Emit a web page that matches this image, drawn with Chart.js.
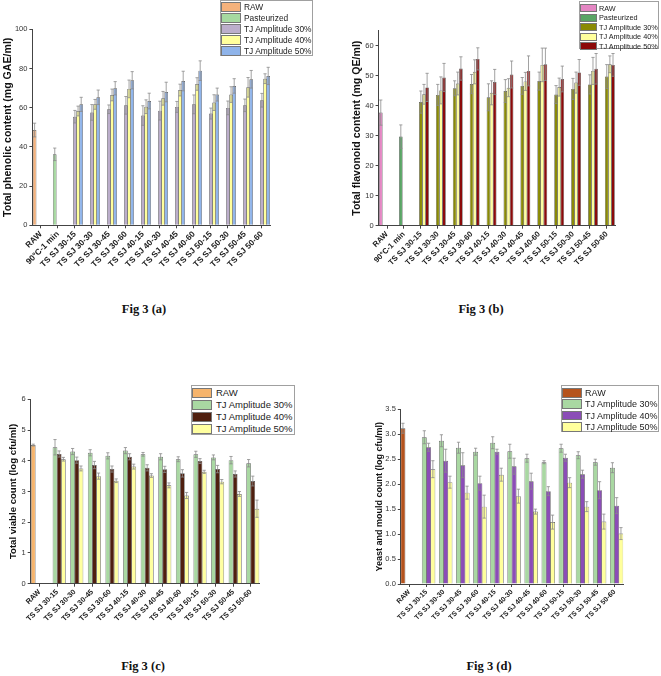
<!DOCTYPE html>
<html>
<head>
<meta charset="utf-8">
<script src="https://cdn.jsdelivr.net/npm/chart.js@4.4.1/dist/chart.umd.min.js"></script>
<style>
  html,body{margin:0;padding:0;background:#fff;}
  body{width:661px;height:676px;position:relative;overflow:hidden;font-family:"Liberation Sans",Arial,sans-serif;}
  canvas{position:absolute;}
  .cap{position:absolute;font-family:"Liberation Serif","Times New Roman",serif;font-weight:bold;font-size:12.5px;color:#111;transform:translateX(-50%);white-space:nowrap;}
  .leg{position:absolute;border:1px solid #a0a0a0;background:#fff;box-sizing:border-box;}
  .row{position:absolute;left:0;display:flex;align-items:center;white-space:nowrap;color:#222;}
  .sw{box-sizing:border-box;border:1px solid #777;flex:none;}
</style>
</head>
<body>
<canvas id="ca" width="330" height="290" style="left:0;top:0;width:330px;height:290px"></canvas>
<canvas id="cb" width="331" height="290" style="left:330px;top:0;width:331px;height:290px"></canvas>
<canvas id="cc" width="330" height="280" style="left:0;top:355px;width:330px;height:280px"></canvas>
<canvas id="cd" width="331" height="280" style="left:330px;top:355px;width:331px;height:280px"></canvas>

<div class="cap" style="left:144px;top:302px">Fig 3 (a)</div>
<div class="cap" style="left:481px;top:302px">Fig 3 (b)</div>
<div class="cap" style="left:143px;top:659px">Fig 3 (c)</div>
<div class="cap" style="left:489px;top:659px">Fig 3 (d)</div>

<div id="lega" class="leg"></div>
<div id="legb" class="leg"></div>
<div id="legc" class="leg"></div>
<div id="legd" class="leg"></div>

<script>
// ---------- categories ----------
const tsLabels = ['TS SJ 30-15','TS SJ 30-30','TS SJ 30-45','TS SJ 30-60','TS SJ 40-15','TS SJ 40-30','TS SJ 40-45','TS SJ 40-60','TS SJ 50-15','TS SJ 50-30','TS SJ 50-45','TS SJ 50-60'];
const catsAB = ['RAW','90°C-1 min'].concat(tsLabels);
const catsCD = ['RAW'].concat(tsLabels);
const seriesAB = ['RAW','Pasteurized','TJ Amplitude 30%','TJ Amplitude 40%','TJ Amplitude 50%'];
const seriesCD = ['RAW','TJ Amplitude 30%','TJ Amplitude 40%','TJ Amplitude 50%'];

// ---------- (a) total phenolic content ----------
const tpcRaw = 48.6, tpcRawErr = 3.5;
const tpcPast = 36.2, tpcPastErr = 3.2;
const tpc30 = [55.4,57.6,59.2,61.2,56.0,58.5,60.4,61.7,57.0,59.9,61.2,63.8];
const tpc40 = [58.3,61.7,66.5,69.6,60.5,64.8,69.0,72.1,62.6,66.7,70.4,74.8];
const tpc50 = [61.7,65.3,69.9,74.0,63.4,68.0,73.6,78.9,66.7,71.1,74.5,76.2];
const tpc30Err = [3.2,4.0,2.2,4.5,5.0,4.8,2.8,4.8,2.8,3.5,3.2,3.5];
const tpc40Err = [2.5,2.5,3.0,4.5,3.5,3.5,3.0,3.2,4.0,4.0,5.0,2.5];
const tpc50Err = [3.6,3.7,3.4,4.4,4.0,5.0,5.0,5.0,3.3,3.7,4.5,4.4];

// ---------- (b) total flavonoid content ----------
const tfcRaw = 37.7, tfcRawErr = 4.2;
const tfcPast = 29.7, tfcPastErr = 3.9;
const tfc30 = [41.2,43.6,45.8,47.2,42.8,44.9,46.6,48.2,43.7,45.6,47.1,49.7];
const tfc40 = [43.8,45.1,47.4,51.3,44.3,46.0,48.1,53.6,46.2,47.7,51.6,53.8];
const tfc50 = [46.1,49.4,52.4,55.6,47.9,50.4,51.6,53.8,48.9,51.1,52.3,53.6];
const tfc30Err = [3.7,3.5,2.5,3.2,4.5,3.8,2.8,3.0,3.0,3.5,3.2,4.0];
const tfc40Err = [3.3,4.5,3.8,4.0,4.0,3.0,3.0,5.6,3.0,3.5,4.5,2.8];
const tfc50Err = [4.7,4.7,3.9,3.7,4.2,4.5,5.0,5.4,4.3,4.3,5.1,3.8];

// ---------- (c) total viable count ----------
const tvcRaw = 4.51, tvcRawErr = 0.03;
const tvc30 = [4.44,4.30,4.26,4.16,4.33,4.21,4.13,4.05,4.21,4.11,4.02,3.92];
const tvc40 = [4.22,4.02,3.86,3.73,4.13,3.77,3.72,3.59,3.99,3.73,3.57,3.34];
const tvc50 = [4.05,3.75,3.50,3.35,3.81,3.52,3.20,2.87,3.64,3.32,2.92,2.44];
const tvc30Err = [0.25,0.10,0.10,0.10,0.10,0.06,0.10,0.08,0.10,0.08,0.12,0.12];
const tvc40Err = [0.10,0.10,0.12,0.10,0.10,0.10,0.10,0.12,0.08,0.12,0.10,0.16];
const tvc50Err = [0.06,0.08,0.10,0.06,0.08,0.06,0.08,0.10,0.05,0.07,0.08,0.28];

// ---------- (d) yeast and mould count ----------
const ymRaw = 3.12, ymRawErr = 0.10;
const ym30 = [2.94,2.87,2.73,2.65,2.83,2.66,2.52,2.44,2.72,2.58,2.44,2.33];
const ym40 = [2.74,2.47,2.38,2.02,2.65,2.36,2.06,1.86,2.53,2.20,1.88,1.57];
const ym50 = [2.30,2.04,1.83,1.55,2.19,1.76,1.45,1.24,2.03,1.55,1.25,1.01];
const ym30Err = [0.13,0.12,0.11,0.07,0.12,0.14,0.08,0.03,0.08,0.07,0.06,0.10];
const ym40Err = [0.08,0.23,0.25,0.14,0.05,0.16,0.16,0.09,0.07,0.08,0.17,0.16];
const ym50Err = [0.17,0.12,0.13,0.23,0.13,0.14,0.05,0.14,0.10,0.10,0.15,0.12];

// ---------- colours ----------
const colA = ['#f5b27c','#a6d9a0','#bcaecb','#ffff9c','#8fb4ea'];
const colB = ['#e486c3','#5aa565','#8a8a05','#ffff9c','#8c0a0a'];
const colC = ['#f6b46c','#a9d8a2','#4f1f0f','#ffffa0'];
const colD = ['#b5531d','#a9d8a2','#8b4db7','#ffff9c'];

// ---------- helpers ----------
const nulls = n => Array(n).fill(null);
function single(n, idx, v){ const a = nulls(n); a[idx] = v; return a; }
function tail(n, arr){ return nulls(n - arr.length).concat(arr); }

const errPlugin = {
  id:'errbars',
  afterDatasetsDraw(chart){
    const ctx = chart.ctx, ys = chart.scales.y;
    chart.data.datasets.forEach((ds,i)=>{
      const meta = chart.getDatasetMeta(i);
      ds.data.forEach((v,j)=>{
        if (v === null || v === undefined) return;
        const e = ds.errors[j]; if (!e) return;
        const x = meta.data[j].x;
        const yt = ys.getPixelForValue(v+e), yb = ys.getPixelForValue(v-e);
        ctx.save();
        ctx.strokeStyle = '#8a8a8a'; ctx.lineWidth = 0.8;
        ctx.beginPath();
        ctx.moveTo(x, yb); ctx.lineTo(x, yt);
        ctx.moveTo(x-1.6, yt); ctx.lineTo(x+1.6, yt);
        ctx.moveTo(x-1.6, yb); ctx.lineTo(x+1.6, yb);
        ctx.stroke();
        ctx.restore();
      });
    });
  }
};

const FAM = '"Liberation Sans", Arial, sans-serif';
function zeroPad(s){ s.paddingLeft = 0; s.paddingRight = 0; s.paddingTop = 0; s.paddingBottom = 0; }

function panel(id, p){
  new Chart(document.getElementById(id), {
    type:'bar',
    data:{
      labels:p.labels,
      datasets:p.series.map((d,k)=>({
        label:d.label, data:d.data, errors:d.err,
        backgroundColor:p.colors[k], borderColor:'#5a5a5a', borderWidth:0.7,
        categoryPercentage:p.catPct, barPercentage:p.barPct
      }))
    },
    options:{
      responsive:false, animation:false,
      layout:{padding:{left:p.padL, top:p.top, right:p.padR, bottom:0}},
      plugins:{legend:{display:false}, tooltip:{enabled:false}},
      scales:{
        x:{
          offset:true,
          grid:{display:true, drawOnChartArea:false, offset:false, tickLength:3, color:'#444', lineWidth:1},
          border:{display:true, color:'#444', width:1},
          ticks:{autoSkip:false, minRotation:45, maxRotation:45, padding:1, color:'#1a1a1a',
                 font:{family:FAM, size:p.xFont, weight:'bold'}},
          afterFit:s=>{ s.height = p.xH; zeroPad(s); }
        },
        y:{
          min:0, max:p.max,
          grid:{display:true, drawOnChartArea:false, tickLength:3, color:'#444'},
          border:{display:true, color:'#444', width:1},
          ticks:{stepSize:p.step, padding:2, color:'#333', font:{family:FAM, size:7.5},
                 callback:v=>p.fmt ? Number(v).toFixed(p.fmt) : v},
          afterBuildTicks:s=>{ s.ticks = s.ticks.filter(t=>Math.abs(t.value/p.step - Math.round(t.value/p.step))<1e-6); },
          title:{display:true, text:p.title, color:'#111', padding:{top:2,bottom:2},
                 font:{family:FAM, size:p.tFont, weight:'bold'}},
          afterFit:s=>{ s.width = p.yW; zeroPad(s); }
        }
      }
    },
    plugins:[errPlugin]
  });
}

function legend(id, box, names, colors){
  const el = document.getElementById(id);
  el.style.left = box.x+'px'; el.style.top = box.y+'px';
  el.style.width = box.w+'px'; el.style.height = box.h+'px';
  names.forEach((n,i)=>{
    const r = document.createElement('div');
    r.className = 'row';
    r.style.top = (box.r0 + i*box.step - box.step/2)+'px';
    r.style.height = box.step+'px';
    r.style.fontSize = box.fs+'px';
    const s = document.createElement('div');
    s.className = 'sw';
    s.style.width = box.sw+'px'; s.style.height = (box.step-1.5)+'px';
    s.style.background = colors[i]; s.style.marginRight = box.gap+'px';
    r.appendChild(s);
    const t = document.createElement('span'); t.textContent = n; r.appendChild(t);
    el.appendChild(r);
  });
}

// ---------- build panels ----------
const NA = catsAB.length, NC = catsCD.length;

panel('ca', {
  labels:catsAB, colors:colA, catPct:0.926, barPct:1.165,
  series:[
    {label:seriesAB[0], data:single(NA,0,tpcRaw), err:single(NA,0,tpcRawErr)},
    {label:seriesAB[1], data:single(NA,1,tpcPast), err:single(NA,1,tpcPastErr)},
    {label:seriesAB[2], data:tail(NA,tpc30), err:tail(NA,tpc30Err)},
    {label:seriesAB[3], data:tail(NA,tpc40), err:tail(NA,tpc40Err)},
    {label:seriesAB[4], data:tail(NA,tpc50), err:tail(NA,tpc50Err)}
  ],
  padL:0, yW:32.4, top:29.3, padR:330-270.4, xH:290-225.3,
  max:100, step:20, title:'Total phenolic content (mg GAE/ml)', tFont:10.6, xFont:8.3
});

panel('cb', {
  labels:catsAB, colors:colB, catPct:0.926, barPct:1.165,
  series:[
    {label:seriesAB[0], data:single(NA,0,tfcRaw), err:single(NA,0,tfcRawErr)},
    {label:seriesAB[1], data:single(NA,1,tfcPast), err:single(NA,1,tfcPastErr)},
    {label:seriesAB[2], data:tail(NA,tfc30), err:tail(NA,tfc30Err)},
    {label:seriesAB[3], data:tail(NA,tfc40), err:tail(NA,tfc40Err)},
    {label:seriesAB[4], data:tail(NA,tfc50), err:tail(NA,tfc50Err)}
  ],
  padL:18.6, yW:30, top:30.7, padR:331-285.2, xH:290-225.7,
  max:65, step:10, title:'Total flavonoid content (mg QE/ml)', tFont:10.6, xFont:7.8
});

panel('cc', {
  labels:catsCD, colors:colC, catPct:0.95, barPct:1.125,
  series:[
    {label:seriesCD[0], data:single(NC,0,tvcRaw), err:single(NC,0,tvcRawErr)},
    {label:seriesCD[1], data:tail(NC,tvc30), err:tail(NC,tvc30Err)},
    {label:seriesCD[2], data:tail(NC,tvc40), err:tail(NC,tvc40Err)},
    {label:seriesCD[3], data:tail(NC,tvc50), err:tail(NC,tvc50Err)}
  ],
  padL:5.3, yW:25.4, top:44.3, padR:330-259.5, xH:280-228.7,
  max:6, step:1, title:'Total viable count (log cfu/ml)', tFont:9.6, xFont:7.4
});

panel('cd', {
  labels:catsCD, colors:colD, catPct:1.0, barPct:1.15,
  series:[
    {label:seriesCD[0], data:single(NC,0,ymRaw), err:single(NC,0,ymRawErr)},
    {label:seriesCD[1], data:tail(NC,ym30), err:tail(NC,ym30Err)},
    {label:seriesCD[2], data:tail(NC,ym40), err:tail(NC,ym40Err)},
    {label:seriesCD[3], data:tail(NC,ym50), err:tail(NC,ym50Err)}
  ],
  padL:42.6, yW:28.2, top:54.3, padR:331-293.1, xH:280-229,
  max:3.5, step:0.5, fmt:1, title:'Yeast and mould count (log cfu/ml)', tFont:9, xFont:7
});

// ---------- legends ----------
legend('lega', {x:220,y:0,w:93,h:56,r0:6,step:11,fs:8.4,sw:20,gap:3}, seriesAB, colA);
legend('legb', {x:579,y:1,w:80,h:48,r0:6,step:9.5,fs:7.3,sw:17,gap:2}, seriesAB, colB);
legend('legc', {x:191,y:385,w:104,h:50,r0:7,step:11.9,fs:9.5,sw:20,gap:4}, seriesCD, colC);
legend('legd', {x:561,y:385,w:98,h:47,r0:7,step:11.3,fs:9,sw:20,gap:3}, seriesCD, colD);
</script>
</body>
</html>
